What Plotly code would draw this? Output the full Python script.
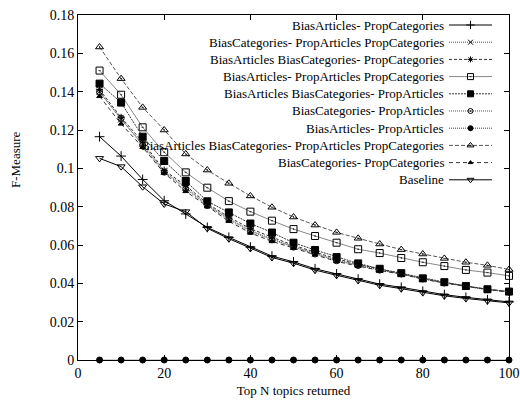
import plotly.graph_objects as go

N = [5, 10, 15, 20, 25, 30, 35, 40, 45, 50, 55, 60, 65, 70, 75, 80, 85, 90, 95, 100]

names = [
    "BiasArticles- PropCategories",
    "BiasCategories- PropArticles PropCategories",
    "BiasArticles BiasCategories- PropCategories",
    "BiasArticles- PropArticles PropCategories",
    "BiasArticles BiasCategories- PropArticles",
    "BiasCategories- PropArticles",
    "BiasArticles- PropArticles",
    "BiasArticles BiasCategories- PropArticles PropCategories",
    "BiasCategories- PropCategories",
    "Baseline",
]

ba_pc = [0.1165, 0.1064, 0.0942, 0.0831, 0.0762, 0.0692, 0.0640, 0.0589, 0.0542, 0.0512,
         0.0476, 0.0449, 0.0422, 0.0396, 0.0379, 0.0358, 0.0341, 0.0327, 0.0314, 0.0303]
bc_pa_pc = [0.1400, 0.1255, 0.1128, 0.0984, 0.0900, 0.0810, 0.0738, 0.0676, 0.0632, 0.0592,
            0.0557, 0.0522, 0.0496, 0.0471, 0.0450, 0.0424, 0.0403, 0.0385, 0.0368, 0.0356]
ba_bc_pc = [0.1410, 0.1266, 0.1138, 0.0990, 0.0910, 0.0816, 0.0746, 0.0685, 0.0641, 0.0598,
            0.0563, 0.0528, 0.0500, 0.0474, 0.0451, 0.0425, 0.0404, 0.0386, 0.0369, 0.0357]
ba_pa_pc = [0.1510, 0.1384, 0.1214, 0.1084, 0.0979, 0.0899, 0.0829, 0.0774, 0.0727, 0.0683,
            0.0647, 0.0612, 0.0578, 0.0558, 0.0532, 0.0510, 0.0490, 0.0470, 0.0456, 0.0439]
ba_bc_pa = [0.1442, 0.1343, 0.1165, 0.1038, 0.0934, 0.0828, 0.0770, 0.0712, 0.0665, 0.0612,
            0.0574, 0.0537, 0.0504, 0.0476, 0.0453, 0.0426, 0.0406, 0.0386, 0.0369, 0.0357]
bc_pa = [0.1398, 0.1260, 0.1122, 0.0980, 0.0893, 0.0806, 0.0733, 0.0671, 0.0627, 0.0589,
         0.0553, 0.0518, 0.0493, 0.0469, 0.0449, 0.0423, 0.0402, 0.0384, 0.0367, 0.0355]
ba_pa = [0.0] * 20
ba_bc_pa_pc = [0.1633, 0.1468, 0.1318, 0.1200, 0.1075, 0.0991, 0.0922, 0.0856, 0.0797, 0.0746,
               0.0704, 0.0666, 0.0635, 0.0605, 0.0576, 0.0553, 0.0530, 0.0510, 0.0494, 0.0472]
bc_pc = [0.1376, 0.1232, 0.1110, 0.0975, 0.0880, 0.0800, 0.0724, 0.0663, 0.0619, 0.0584,
         0.0549, 0.0514, 0.0490, 0.0467, 0.0448, 0.0422, 0.0402, 0.0384, 0.0367, 0.0355]
baseline = [0.1052, 0.1009, 0.0904, 0.0814, 0.0774, 0.0687, 0.0633, 0.0582, 0.0535, 0.0505,
            0.0469, 0.0442, 0.0415, 0.0390, 0.0372, 0.0352, 0.0335, 0.0321, 0.0309, 0.0298]

series = [ba_pc, bc_pa_pc, ba_bc_pc, ba_pa_pc, ba_bc_pa, bc_pa, ba_pa, ba_bc_pa_pc, bc_pc, baseline]

styles = [
    dict(symbol="cross-thin", size=7, dash="solid", color="#000000"),
    dict(symbol="x-thin", size=6, dash="1px,1px", color="#555555"),
    dict(symbol="asterisk", size=6, dash="3px,2px", color="#333333"),
    dict(symbol="square-open-dot", size=7, dash="solid", color="#888888"),
    dict(symbol="square", size=7, dash="2px,1px", color="#333333"),
    dict(symbol="circle-open-dot", size=6, dash="1px,1px", color="#555555"),
    dict(symbol="circle", size=6, dash="1px,1px", color="#444444"),
    dict(symbol="triangle-up-open-dot", size=7, dash="4px,2px", color="#555555"),
    dict(symbol="triangle-up", size=5, dash="4px,3px", color="#333333"),
    dict(symbol="triangle-down-open", size=7, dash="solid", color="#000000"),
]

FONT = "Liberation Serif"

fig = go.Figure()
for name, ys, st in zip(names, series, styles):
    fig.add_trace(go.Scatter(
        x=N, y=ys, name=name, mode="lines+markers",
        line=dict(color=st["color"], width=1, dash=st["dash"]),
        marker=dict(symbol=st["symbol"], size=st["size"], color="#000000",
                    line=dict(color="#000000", width=1)),
        cliponaxis=False, showlegend=False,
    ))

# custom legend: text right-aligned, sample to the right (gnuplot style)
L, R, T, B = 78, 11, 15, 50
W, H = 520, 410
pw, ph = W - L - R, H - T - B
row0, rowstep = 25.0, 17.2
text_right = 446.0
samp_x0, samp_x1 = 449.0, 492.0
for i, (name, st) in enumerate(zip(names, styles)):
    ypx = row0 + i * rowstep
    yp = (H - B - ypx) / ph
    fig.add_annotation(x=(text_right - L) / pw, y=yp, xref="paper", yref="paper",
                       text=name, showarrow=False, xanchor="right", yanchor="middle",
                       font=dict(family=FONT, size=13, color="black"))
    xa, xb = (samp_x0 - L) / pw, (samp_x1 - L) / pw
    fig.add_trace(go.Scatter(
        x=[xa, xb], y=[yp, yp], xaxis="x2", yaxis="y2", mode="lines",
        line=dict(color=st["color"], width=1, dash=st["dash"]), showlegend=False,
        hoverinfo="skip"))
    fig.add_trace(go.Scatter(
        x=[(xa + xb) / 2], y=[yp], xaxis="x2", yaxis="y2", mode="markers",
        marker=dict(symbol=st["symbol"], size=max(st["size"] - 1, 4), color="#000000",
                    line=dict(color="#000000", width=1)), showlegend=False,
        hoverinfo="skip"))

axis_common = dict(showline=True, linecolor="black", linewidth=1, mirror="ticks",
                   ticks="inside", ticklen=5, tickcolor="black", showgrid=False,
                   zeroline=False, automargin=False,
                   tickfont=dict(family=FONT, size=14, color="black"))

fig.update_layout(
    width=W, height=H,
    margin=dict(l=L, r=R, t=T, b=B, autoexpand=False),
    paper_bgcolor="white", plot_bgcolor="white",
    font=dict(family=FONT, color="black"),
    xaxis=dict(range=[0, 100], dtick=20, tick0=0,
               title=dict(text="Top N topics returned", font=dict(family=FONT, size=13),
                          standoff=6),
               **axis_common),
    yaxis=dict(range=[0, 0.18], dtick=0.02, tick0=0, **axis_common),
    xaxis2=dict(overlaying="x", range=[0, 1], visible=False),
    yaxis2=dict(overlaying="y", range=[0, 1], visible=False),
    showlegend=False,
)

fig.add_annotation(x=(15 - L) / pw, y=(H - B - 160) / ph, xref="paper", yref="paper",
                   text="F-Measure", showarrow=False, textangle=-90,
                   xanchor="center", yanchor="middle",
                   font=dict(family=FONT, size=13, color="black"))

fig.write_html("out.html", config={"displayModeBar": False},
               post_script="document.body.style.margin='0px';")
